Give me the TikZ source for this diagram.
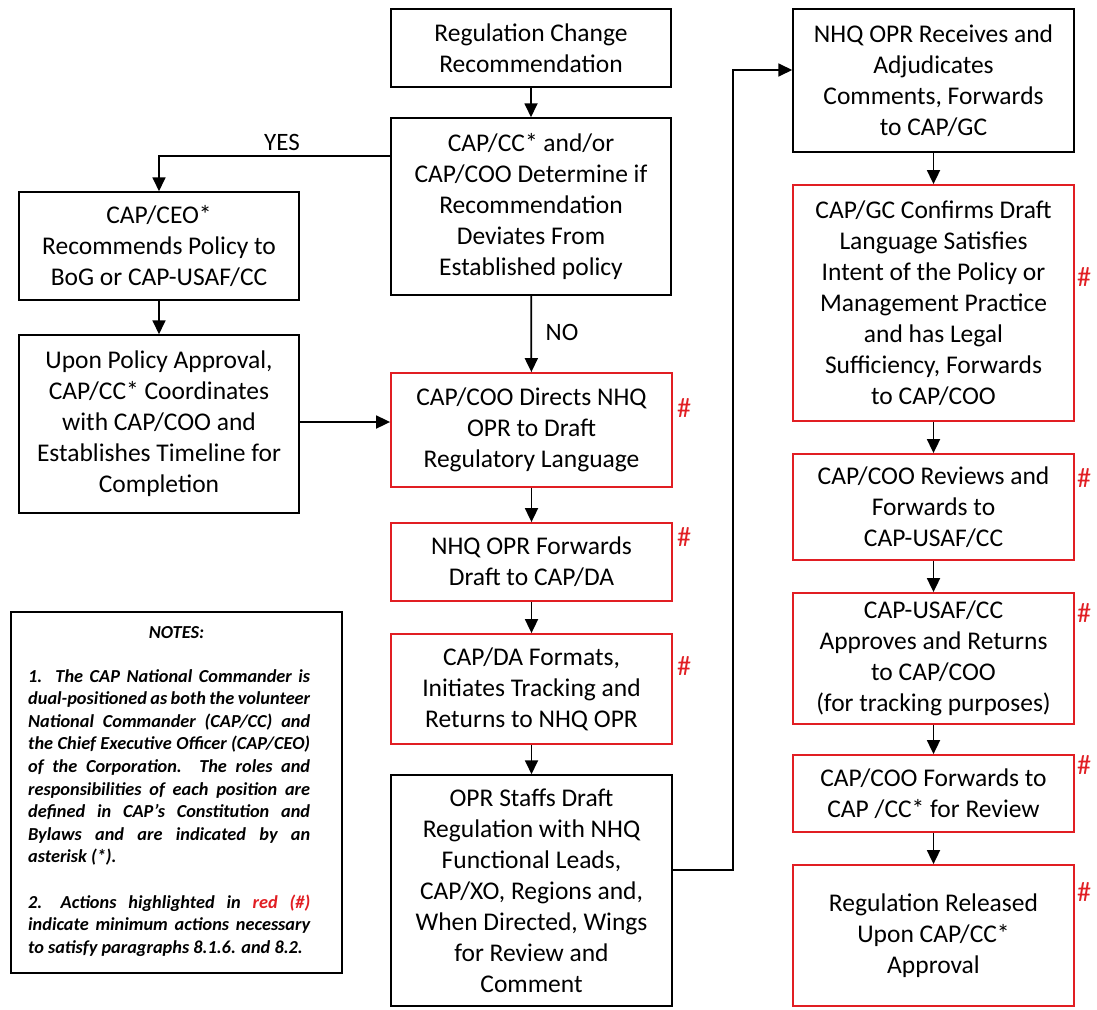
\documentclass[tikz,border=0pt]{standalone}
\usepackage{fontspec}
\setmainfont{Carlito}
\usetikzlibrary{arrows.meta}
\definecolor{boxred}{RGB}{225,30,35}
\newlength\notew
\setlength\notew{282pt}
\newcommand\jl[1]{\makebox[\notew][s]{#1}}
\begin{document}
\begin{tikzpicture}[x=1pt,y=-1pt,
  box/.style={draw=black, line width=1.5pt, minimum width=280pt, inner sep=0pt, align=center, font=\fontsize{25.5}{31}\selectfont},
  redbox/.style={box, draw=boxred, line width=1.8pt},
  arr/.style={line width=1.8pt, -{Triangle[width=13pt,length=14pt]}},
  hash/.style={text=boxred, font=\fontsize{28}{28}\selectfont, inner sep=0pt},
  lbl/.style={font=\fontsize{25}{26}\selectfont, inner sep=0pt}]
\useasboundingbox (0,0) rectangle (1097,1009);

% centre column
\node[box, minimum height=78pt] (A) at (531,48) {Regulation Change\\Recommendation};
\node[box, minimum height=177pt] (B) at (531,206.5) {CAP/CC* and/or\\CAP/COO Determine if\\Recommendation\\Deviates From\\Established policy};
\node[redbox, minimum width=281pt, minimum height=114pt] (C) at (531.5,430) {CAP/COO Directs NHQ\\OPR to Draft\\Regulatory Language};
\node[redbox, minimum width=281pt, minimum height=78pt] (D) at (531.5,562) {NHQ OPR Forwards\\Draft to CAP/DA};
\node[redbox, minimum width=281pt, minimum height=110pt] (E) at (531.5,689) {CAP/DA Formats,\\Initiates Tracking and\\Returns to NHQ OPR};
\node[box, minimum width=281pt, minimum height=231pt] (F) at (531.5,890.5) {OPR Staffs Draft\\Regulation with NHQ\\Functional Leads,\\CAP/XO, Regions and,\\When Directed, Wings\\for Review and\\Comment};

% left column
\node[box, minimum height=108pt] (CEO) at (159,246) {CAP/CEO*\\Recommends Policy to\\BoG or CAP-USAF/CC};
\node[box, minimum height=178pt] (UP) at (159,424) {Upon Policy Approval,\\CAP/CC* Coordinates\\with CAP/COO and\\Establishes Timeline for\\Completion};

% right column
\node[box, minimum width=281pt, minimum height=143pt] (G) at (933.5,80.5) {NHQ OPR Receives and\\Adjudicates\\Comments, Forwards\\to CAP/GC};
\node[redbox, minimum width=281pt, minimum height=236pt] (H) at (933.5,303) {CAP/GC Confirms Draft\\Language Satisfies\\Intent of the Policy or\\Management Practice\\and has Legal\\Sufficiency, Forwards\\to CAP/COO};
\node[redbox, minimum width=281pt, minimum height=106pt] (I) at (933.5,507) {CAP/COO Reviews and\\Forwards to\\CAP-USAF/CC};
\node[redbox, minimum width=281pt, minimum height=131pt] (J) at (933.5,658.5) {CAP-USAF/CC\\Approves and Returns\\to CAP/COO\\(for tracking purposes)};
\node[redbox, minimum width=281pt, minimum height=77pt] (K) at (933.5,793.5) {CAP/COO Forwards to\\CAP /CC* for Review};
\node[redbox, minimum width=281pt, minimum height=141pt] (L) at (933.5,935.5) {Regulation Released\\Upon CAP/CC*\\Approval};

% hash marks
\node[hash] (hC) at (684,408) {\#};
\node[hash] (hD) at (684,537) {\#};
\node[hash] (hE) at (684,666) {\#};
\node[hash] (hH) at (1084,277) {\#};
\node[hash] (hI) at (1084,478) {\#};
\node[hash] (hJ) at (1084,613) {\#};
\node[hash] (hK) at (1084,765) {\#};
\node[hash] (hL) at (1084,892) {\#};

% labels
\node[lbl] (yes) at (282,142) {YES};
\node[lbl] (no) at (562,332) {NO};

% connectors
\draw[arr] (A) -- (B);
\draw[arr] (B) -- (C);
\draw[arr] (C) -- (D);
\draw[arr] (D) -- (E);
\draw[arr] (E) -- (F);
\coordinate (yy) at (0,156);
\draw[arr] (B.west |- yy) -| (CEO.north);
\draw[arr] (CEO) -- (UP);
\coordinate (uy) at (0,422);
\draw[arr] (UP.east |- uy) -- (C.west |- uy);
\coordinate (fy) at (0,870);
\coordinate (jx) at (733,0);
\coordinate (gy) at (0,70);
\draw[arr] (F.east |- fy) -- (jx |- fy) -- (jx |- gy) -- (G.west |- gy);
\draw[arr] (G) -- (H);
\draw[arr] (H) -- (I);
\draw[arr] (I) -- (J);
\draw[arr] (J) -- (K);
\draw[arr] (K) -- (L);

% notes
\node[draw=black, line width=2.2pt, minimum width=331pt, minimum height=361pt, inner sep=0pt] (N) at (176.5,792.5) {};
\node[inner sep=0pt, font=\fontsize{18.3}{22}\selectfont\bfseries\itshape] (nt) at (176.5,633) {NOTES:};
\node[inner sep=0pt, anchor=north west, align=left, font=\fontsize{18.3}{22.6}\selectfont\bfseries\itshape] (nb) at (28,669) {%
\jl{1.\ \ The CAP National Commander is}\\
\jl{dual-positioned as both the volunteer}\\
\jl{National Commander (CAP/CC) and}\\
\jl{the Chief Executive Officer (CAP/CEO)}\\
\jl{of the Corporation.\ \ The roles and}\\
\jl{responsibilities of each position are}\\
\jl{defined in CAP’s Constitution and}\\
\jl{Bylaws and are indicated by an}\\
asterisk (*).\\[22.6pt]
\jl{2.\quad Actions highlighted in \textcolor{boxred}{red (\#)}}\\
\jl{indicate minimum actions necessary}\\
to satisfy paragraphs 8.1.6. and 8.2.};
\end{tikzpicture}
\end{document}
